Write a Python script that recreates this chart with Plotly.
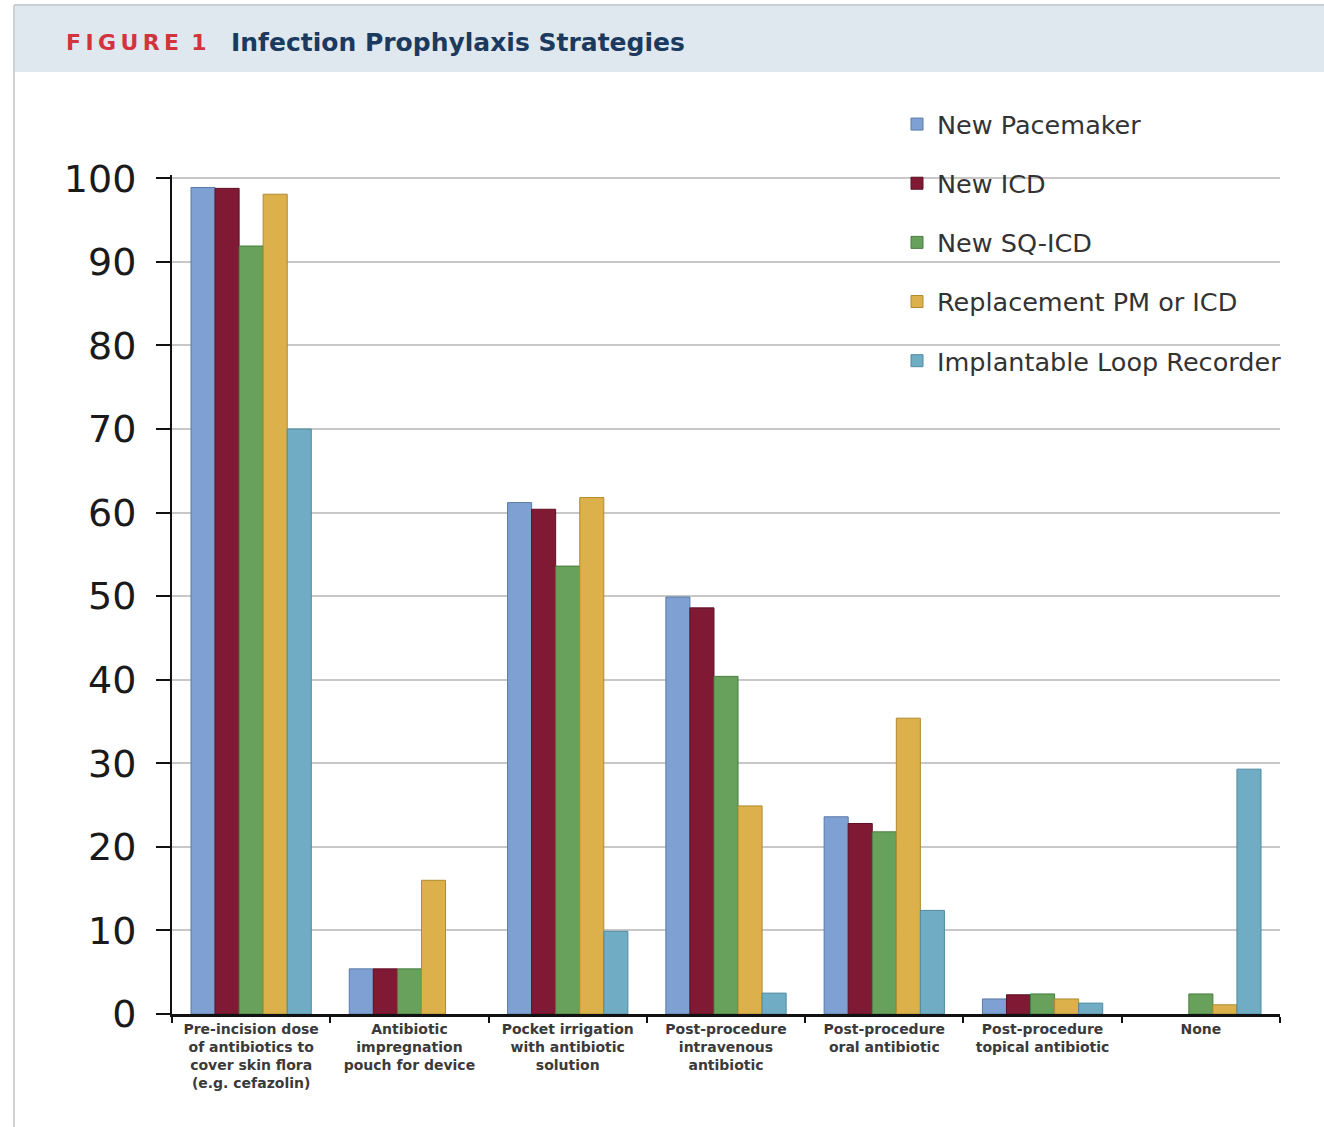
import plotly.graph_objects as go

categories = [
    "Pre-incision dose<br>of antibiotics to<br>cover skin flora<br>(e.g. cefazolin)",
    "Antibiotic<br>impregnation<br>pouch for device",
    "Pocket irrigation<br>with antibiotic<br>solution",
    "Post-procedure<br>intravenous<br>antibiotic",
    "Post-procedure<br>oral antibiotic",
    "Post-procedure<br>topical antibiotic",
    "None",
]
series_names = ["New Pacemaker", "New ICD", "New SQ-ICD",
                "Replacement PM or ICD", "Implantable Loop Recorder"]
new_pacemaker = [98.9, 5.4, 61.2, 49.9, 23.6, 1.8, None]
new_icd = [98.8, 5.4, 60.4, 48.6, 22.8, 2.3, None]
new_sq_icd = [91.9, 5.4, 53.6, 40.4, 21.8, 2.4, 2.4]
replacement = [98.1, 16.0, 61.8, 24.9, 35.4, 1.8, 1.1]
loop_recorder = [70.0, None, 9.9, 2.5, 12.4, 1.3, 29.3]
y_ticks = [0, 10, 20, 30, 40, 50, 60, 70, 80, 90, 100]

colors = ["#7fa0d2", "#801a34", "#67a15c", "#dcb14b", "#70adc4"]
edges = ["#5a7aa8", "#5e1024", "#4a7d41", "#b08a30", "#4f8aa0"]
all_values = [new_pacemaker, new_icd, new_sq_icd, replacement, loop_recorder]

fig = go.Figure()
for i, (name, vals) in enumerate(zip(series_names, all_values)):
    fig.add_trace(go.Bar(
        x=categories, y=vals, name=name,
        marker=dict(color=colors[i], line=dict(color=edges[i], width=1)),
        legendgroup=name,
    ))

L, R, T, B = 172, 1280, 175, 1014
W, H = 1324, 1127
pw, ph = R - L, B - T

def px(x):
    return (x - L) / pw

def py(y):
    return (B - y) / ph

fig.update_layout(
    width=W, height=H,
    margin=dict(l=L, r=W - R, t=T, b=H - B),
    paper_bgcolor="white", plot_bgcolor="white",
    barmode="group", bargap=0.24, bargroupgap=0,
    font=dict(family="DejaVu Sans", color="#333333"),
    legend=dict(
        x=px(897), y=py(101), xanchor="left", yanchor="top",
        bgcolor="rgba(0,0,0,0)",
        font=dict(size=25.5, color="#333333", family="DejaVu Sans"),
        tracegroupgap=23, itemwidth=30,
    ),
    xaxis=dict(
        showline=True, linecolor="#111111", linewidth=3,
        ticks="outside", tickson="boundaries", ticklen=6, tickwidth=2, tickcolor="#111111",
        tickfont=dict(size=14, color="#3a3a3a", family="DejaVu Sans"),
        showgrid=False,
    ),
    yaxis=dict(
        range=[0, 100.4], tickvals=y_ticks,
        showline=True, linecolor="#111111", linewidth=2,
        ticks="outside", ticklen=14, tickwidth=2, tickcolor="#111111",
        tickfont=dict(size=38, color="#1a1a1a", family="DejaVu Sans"),
        showgrid=True, gridcolor="#c8c8c8", gridwidth=2,
        zeroline=False, ticklabelstandoff=12,
    ),
    shapes=[
        dict(type="rect", xref="paper", yref="paper",
             x0=px(14), x1=px(1324), y0=py(72), y1=py(5),
             fillcolor="#dfe8ef", line=dict(width=0), layer="below"),
        dict(type="line", xref="paper", yref="paper",
             x0=px(14), x1=px(1324), y0=py(5), y1=py(5),
             line=dict(color="#c8cfd6", width=2)),
        dict(type="line", xref="paper", yref="paper",
             x0=px(14), x1=px(14), y0=py(5), y1=py(1127),
             line=dict(color="#d0d0d0", width=2)),
    ],
    annotations=[
        dict(xref="paper", yref="paper", x=px(64), y=py(43),
             xanchor="left", yanchor="middle", showarrow=False,
             text="<b>F\u2009I\u2009G\u2009U\u2009R\u2009E\u2009 1</b>",
             font=dict(size=22, color="#d2343e", family="DejaVu Sans")),
        dict(xref="paper", yref="paper", x=px(229), y=py(43),
             xanchor="left", yanchor="middle", showarrow=False,
             text="<b>Infection Prophylaxis Strategies</b>",
             font=dict(size=25, color="#1c3a5e", family="DejaVu Sans")),
    ],
)

fig.update_xaxes(ticktext=["<b>" + c + "</b>" for c in categories], tickvals=categories)

fig.write_html("out.html")
